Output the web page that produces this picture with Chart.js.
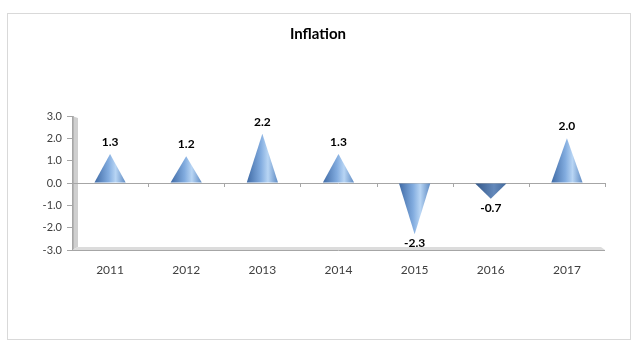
<!DOCTYPE html>
<html>
<head>
<meta charset="utf-8">
<script src="https://cdn.jsdelivr.net/npm/chart.js@4/dist/chart.umd.min.js"></script>
<style>
html,body{margin:0;padding:0;background:#fff;}
#wrap{position:absolute;left:0;top:0;width:641px;height:352px;}
</style>
</head>
<body>
<div id="wrap"><canvas id="c" width="641" height="352"></canvas></div>
<script>
const categories = ['2011','2012','2013','2014','2015','2016','2017'];
const inflation = [1.3, 1.2, 2.2, 1.3, -2.3, -0.7, 2.0];
const yTicks = [-3, -2, -1, 0, 1, 2, 3];
const chartTitle = 'Inflation';

const LABEL_FONT = "Lato, 'Open Sans', 'Liberation Sans', sans-serif";

const decor = {
  id: 'decor',
  beforeDraw(chart) {
    const ctx = chart.ctx;
    const a = chart.chartArea;
    ctx.save();
    ctx.fillStyle = '#fff';
    ctx.fillRect(0, 0, chart.width, chart.height);
    ctx.strokeStyle = '#d9d9d9';
    ctx.lineWidth = 1;
    ctx.strokeRect(7.5, 13.5, 623, 326);
    // title
    ctx.fillStyle = '#000';
    ctx.font = 'bold 15px ' + LABEL_FONT;
    ctx.textAlign = 'center';
    ctx.textBaseline = 'middle';
    ctx.fillText(chartTitle, 318, 34);
    // wall
    ctx.fillStyle = '#cfcfcf';
    ctx.beginPath();
    ctx.moveTo(a.left, a.top);
    ctx.lineTo(a.left + 6, a.top + 2);
    ctx.lineTo(a.left + 6, a.bottom - 3);
    ctx.lineTo(a.left, a.bottom);
    ctx.closePath();
    ctx.fill();
    ctx.fillStyle = '#b5b5b5';
    ctx.fillRect(a.left, a.top, 2, a.bottom - a.top);
    // floor
    ctx.fillStyle = '#dcdcdc';
    ctx.beginPath();
    ctx.moveTo(a.left + 6, a.bottom - 3);
    ctx.lineTo(a.right - 4, a.bottom - 3);
    ctx.lineTo(a.right, a.bottom);
    ctx.lineTo(a.left, a.bottom);
    ctx.closePath();
    ctx.fill();
    ctx.strokeStyle = '#a6a6a6';
    ctx.beginPath();
    ctx.moveTo(a.left, a.bottom + 0.5);
    ctx.lineTo(a.right, a.bottom + 0.5);
    ctx.stroke();
    ctx.restore();
  },
  afterDatasetsDraw(chart) {
    const ctx = chart.ctx;
    const a = chart.chartArea;
    const meta = chart.getDatasetMeta(0);
    const xs = chart.scales.x;
    const ys = chart.scales.y;
    const zero = ys.getPixelForValue(0);
    ctx.save();
    ctx.strokeStyle = '#a6a6a6';
    ctx.lineWidth = 1;
    ctx.beginPath();
    ctx.moveTo(a.left, Math.round(zero) + 0.5);
    ctx.lineTo(a.right, Math.round(zero) + 0.5);
    ctx.stroke();
    for (let i = 1; i <= categories.length; i++) {
      const x = Math.round(xs.getPixelForValue(i - 0.5)) + 0.5;
      ctx.beginPath();
      ctx.moveTo(x, Math.round(zero));
      ctx.lineTo(x, Math.round(zero) + 4);
      ctx.stroke();
    }
    meta.data.forEach((el, i) => {
      const v = inflation[i];
      const cx = el.x;
      const half = el.width / 2;
      const base = el.base;
      const tip = el.y;
      const g = ctx.createLinearGradient(cx - half, 0, cx + half, 0);
      if (v < 0 && v > -1) {
        g.addColorStop(0, '#33588a');
        g.addColorStop(0.6, '#6489bb');
        g.addColorStop(1, '#42699c');
      } else {
        g.addColorStop(0, '#3f6aa5');
        g.addColorStop(0.45, '#82acdf');
        g.addColorStop(0.68, '#b8d5f4');
        g.addColorStop(1, '#5f8bc3');
      }
      ctx.fillStyle = g;
      ctx.beginPath();
      ctx.moveTo(cx - half, base);
      ctx.lineTo(cx, tip);
      ctx.lineTo(cx + half, base);
      ctx.closePath();
      ctx.fill();
      ctx.fillStyle = '#000';
      ctx.font = 'bold 12px ' + LABEL_FONT;
      ctx.textAlign = 'center';
      ctx.textBaseline = 'middle';
      const ly = v >= 0 ? tip - 12 : tip + 9;
      ctx.fillText(v.toFixed(1), cx, ly);
    });
    ctx.restore();
  }
};

new Chart(document.getElementById('c'), {
  type: 'bar',
  data: {
    labels: categories,
    datasets: [{
      label: chartTitle,
      data: inflation,
      backgroundColor: 'rgba(0,0,0,0)',
      borderWidth: 0,
      categoryPercentage: 1,
      barPercentage: 0.41
    }]
  },
  options: {
    responsive: false,
    animation: false,
    devicePixelRatio: 1,
    layout: { padding: { left: 0, right: 36, top: 116, bottom: 0 } },
    plugins: {
      legend: { display: false },
      tooltip: { enabled: false },
      title: { display: false }
    },
    scales: {
      x: {
        grid: { display: false },
        border: { display: false },
        ticks: { color: '#404040', font: { family: LABEL_FONT, size: 12 }, padding: 5 },
        afterFit(s) { s.height = 102; }
      },
      y: {
        min: -3, max: 3,
        afterBuildTicks(s) { s.ticks = yTicks.map(v => ({ value: v })); },
        grid: {
          drawOnChartArea: false,
          drawTicks: true,
          tickLength: 5,
          tickColor: '#a6a6a6'
        },
        border: { display: true, color: '#a6a6a6' },
        ticks: {
          color: '#404040',
          font: { family: LABEL_FONT, size: 11 },
          padding: 5,
          callback: v => Number(v).toFixed(1)
        },
        afterFit(s) { s.width = 72; }
      }
    }
  },
  plugins: [decor]
});
</script>
</body>
</html>
